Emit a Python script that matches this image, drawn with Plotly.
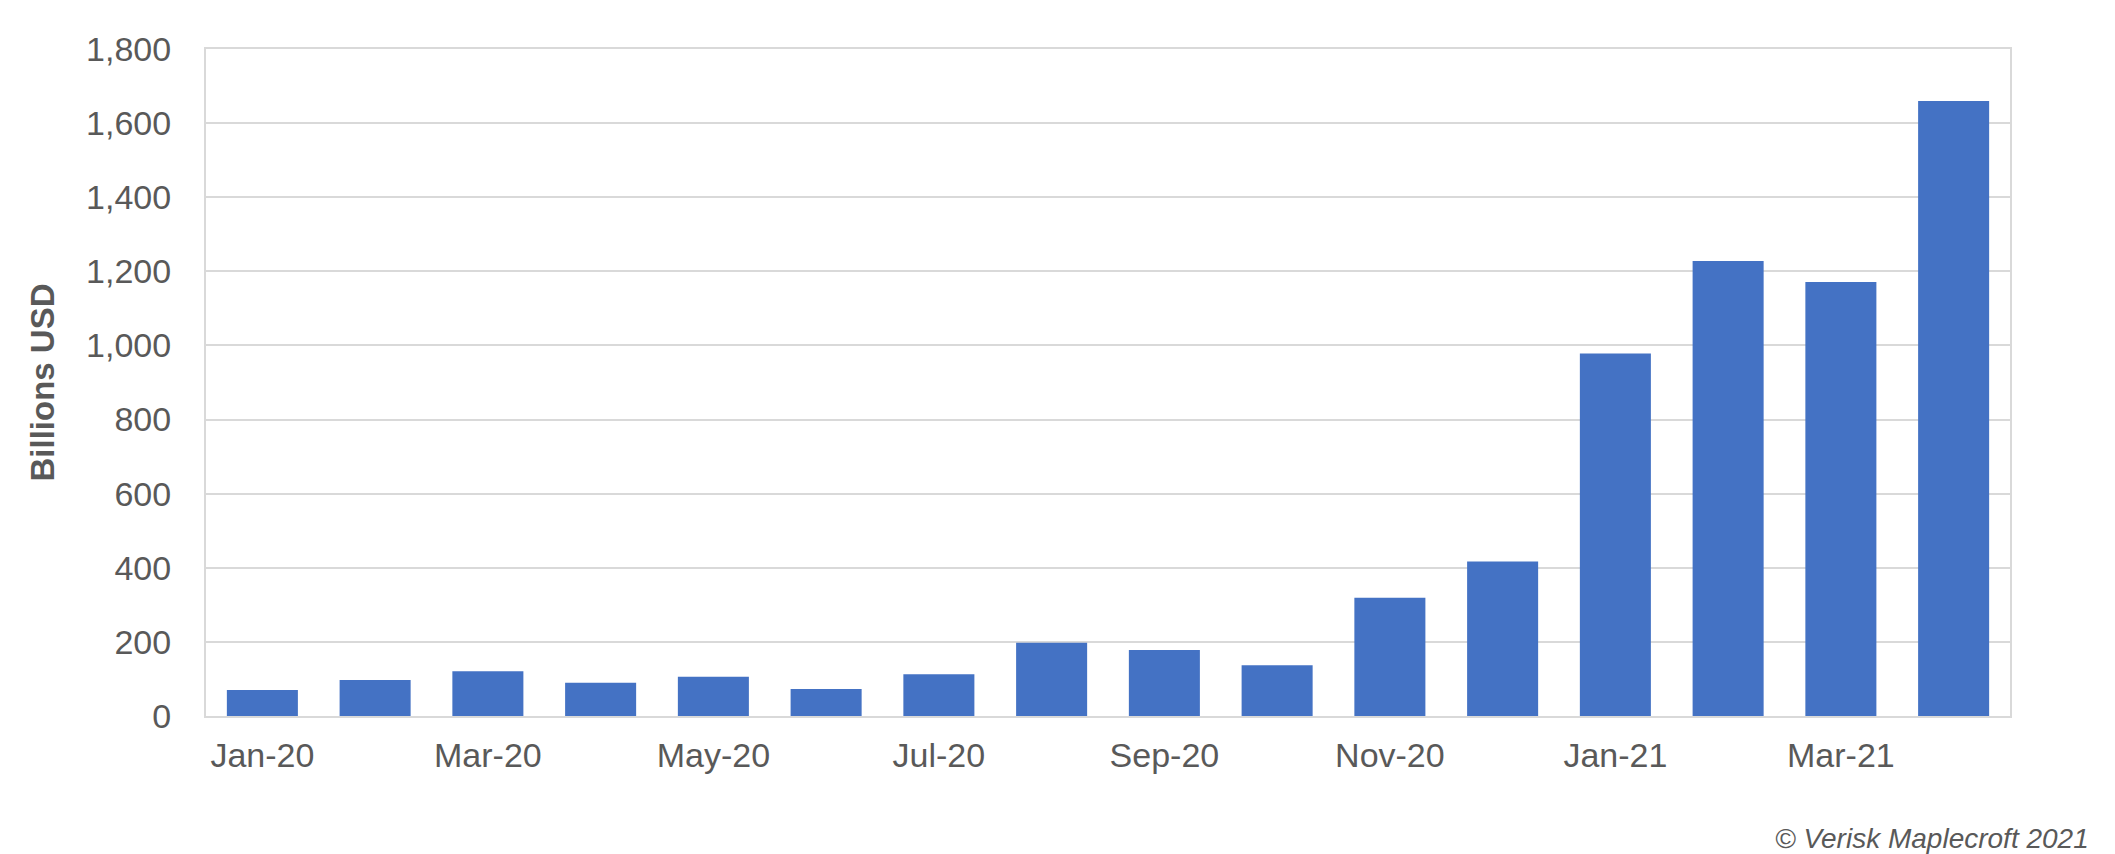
import plotly.graph_objects as go

months = [
    "Jan-20", "Feb-20", "Mar-20", "Apr-20", "May-20", "Jun-20", "Jul-20", "Aug-20",
    "Sep-20", "Oct-20", "Nov-20", "Dec-20", "Jan-21", "Feb-21", "Mar-21", "Apr-21",
]
values = [70, 97, 121, 90, 106, 73, 113, 198, 178, 137, 319, 417, 978, 1228, 1171, 1660]
tick_months = months[::2]
y_ticks = [0, 200, 400, 600, 800, 1000, 1200, 1400, 1600, 1800]

FONT = "Liberation Sans, Arial, sans-serif"
TEXT = "#595959"
GRID = "#d9d9d9"

fig = go.Figure()
fig.add_trace(go.Bar(
    x=months, y=values,
    marker=dict(color="#4472c4", line=dict(width=0)),
    hoverinfo="x+y",
))

# copyright line, bottom right
fig.add_annotation(
    x=1.045, y=-0.183, xref="paper", yref="paper",
    xanchor="right", yanchor="middle",
    text="<i>© Verisk Maplecroft 2021</i>", showarrow=False,
    font=dict(family=FONT, size=28, color=TEXT),
)

fig.update_layout(
    width=2115, height=854,
    margin=dict(l=198, r=113, t=41, b=146),
    paper_bgcolor="white", plot_bgcolor="white",
    bargap=0.37,
    showlegend=False,
    font=dict(family=FONT, color=TEXT),
    xaxis=dict(
        type="category",
        tickvals=tick_months, ticktext=tick_months,
        tickfont=dict(size=34, color=TEXT),
        ticks="", ticklabelstandoff=8,
        showgrid=False,
        showline=True, linecolor=GRID, linewidth=2, mirror=True,
    ),
    yaxis=dict(
        range=[0, 1800], tickvals=y_ticks, tickformat=",",
        tickfont=dict(size=34, color=TEXT),
        ticks="", ticklabelstandoff=26,
        showgrid=True, gridcolor=GRID, gridwidth=2,
        showline=True, linecolor=GRID, linewidth=2, mirror=True,
        zeroline=False,
        title=dict(text="<b>Billions USD</b>", font=dict(size=33, color=TEXT), standoff=22),
    ),
)

fig.write_html("out.html")
